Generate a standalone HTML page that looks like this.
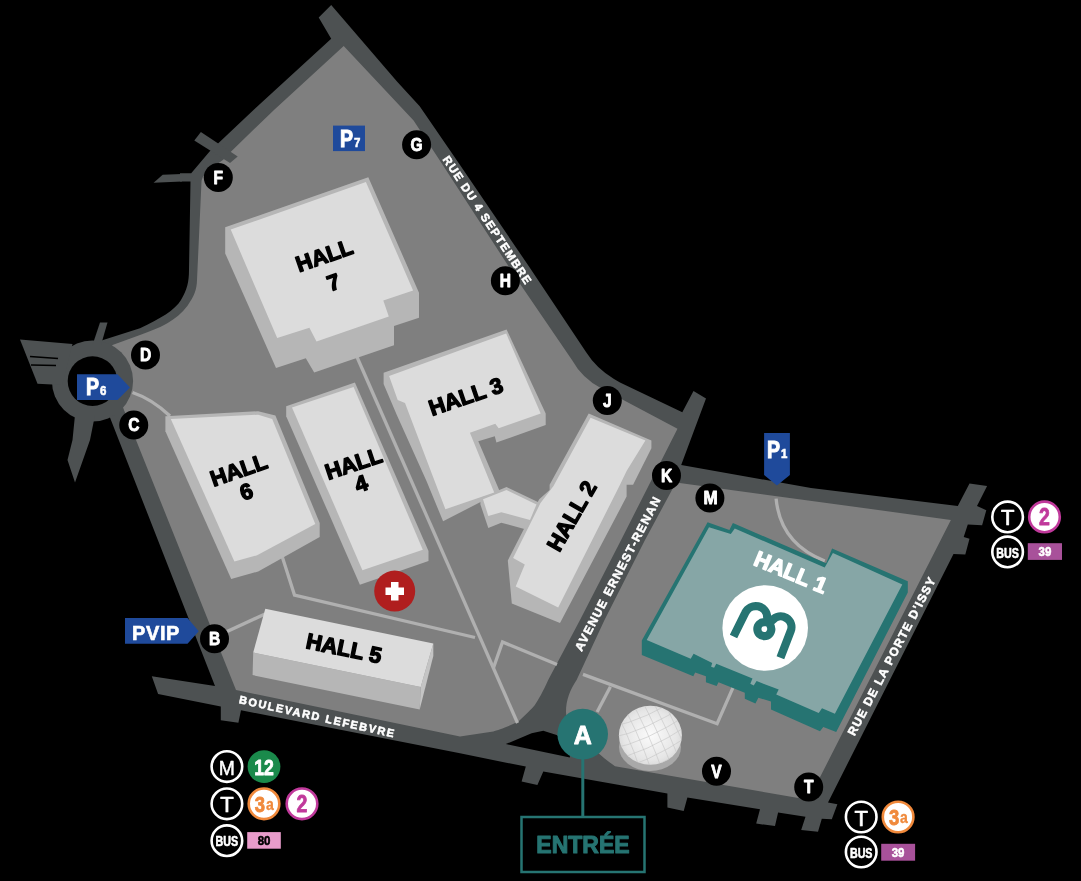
<!DOCTYPE html>
<html><head><meta charset="utf-8">
<style>
html,body{margin:0;padding:0;background:#000;width:1081px;height:881px;overflow:hidden}
svg{display:block;will-change:transform}
text{font-family:"Liberation Sans",sans-serif}
</style></head><body>
<svg width="1081" height="881" viewBox="0 0 1081 881">
<g fill="#4d5152">
<path d="M318.7,17.5 L331.2,5 L397.2,81.7 L419.7,106.2 L459,163.5 L529.5,267.3 L586,352 Q596,368 614,379 L620,382.5 L682.3,412.3 L693.5,391 L706,398.5 L681.2,464.9 L811,488 L957.8,506 L969.5,483.4 L987.1,485.9 L977,506 L986.3,510.2 L982.1,525.3 L967.8,524.4 L963.7,537 L969.5,538.7 L965.3,554.6 L953.5,554 L828,802.4 L837.4,804.3 L831.8,819.3 L821.8,818.7 L818,831.8 L801.2,829.9 L805.5,816.8 L778.1,812.4 L775,826.1 L756.2,823.6 L760,809.3 L687.4,797.4 L683.7,811.1 L667.4,807.4 L667.4,793.6 L543.3,771.6 L537.4,784.9 L521.6,781.6 L525.8,766.6 L460,753.3 L241,710.2 L238.4,722.7 L220.8,720.2 L220.8,706.4 L158.1,693.9 L151.8,676.3 L215,686 L118.75,440 L109,415 L100,341 L140,328.2 C160,319 175,310 181,300 C187,290 189,282 189,270 L190.5,181.5 L180,181.5 L180,173.3 L191.2,173.3 L209.6,151.4 L218.3,143.2 L253.5,110 L331.2,38.7 Z"/>
<polygon points="153.6,182.7 162.7,174.8 182,174 182,181.5"/>
</g>
<g fill="#7f7f7f">
<path d="M343.7,46 L413.6,120.5 L441.8,163.5 L518.4,281.4 L572,360 Q582,378 600.7,388 L677.5,428.7 L621.1,540 L580,620 L548.2,680 C543,692 538,700 534.9,705 C528,713 521,719 518.3,721.6 C508,727 498,730 493.3,731.6 L460,736.6 L236,690 L136,440 L122,405 L92.5,381 L112.5,345 L140,335 C160,328 176,321 187.7,305.5 C194,296 196.8,290 197,280 L201.5,181.5 C203,175 205,172 222.9,160 L231.1,151.4 L274,110 Z"/>
<path d="M676,482.4 L950.9,519.9 L808.5,799.8 L615,766.2 C606,760 600,755 590,745 C575,732 566,725 566,712 C566,700 570,690 576.6,680 L604.5,620 L645,540 Z"/>
</g>
<polygon points="505.8,744.1 531.6,733.3 543.3,730.8 556.6,735 570,745 569.9,757.4" fill="#000"/>
<polygon fill="#4d5152" points="194.3,140.6 200.9,132 237.7,156.5 230,163.1"/>
<g fill="#4d5152">
<circle cx="92.5" cy="381" r="40.6"/>
<polygon points="100,322.5 107.5,322.5 101,345 92.5,345"/>
<polygon points="20,339.5 72.5,344 62,385 37.5,383.75"/>
<polygon points="75,415 95,415 90,440 75,482.5 67.5,460 72.5,440"/>
</g>
<circle cx="92.5" cy="381.1" r="24.8" fill="#000"/>
<g stroke="#000" stroke-width="1.6"><line x1="30" y1="356.5" x2="58" y2="358.5"/><line x1="31" y1="365" x2="56" y2="365.5"/></g>
<g stroke="#b0b0b0" stroke-width="3.3" fill="none">
<line x1="357" y1="357" x2="517.5" y2="723"/>
<polyline points="282.4,557.3 294.5,595 475,637.5"/>
<line x1="226" y1="632" x2="265" y2="614"/>
<path d="M132.5,392.5 Q152,399 170,416"/>
<polyline points="493.5,667.7 502.5,642 557,664.5"/>
<polyline points="583,674.4 717.1,723.7 733.4,686.7"/>
<line x1="610.4" y1="686.7" x2="597.1" y2="711.9"/>
<path d="M776.1,498.6 C779,530 797,550 824.8,561"/>
</g>
<g fill="#b6b6b6">
<polygon points="225.2,227.2 368.3,177.2 419,292.8 419,317.8 394,326.1 394,345.2 314.2,372.6 305.8,358.3 276,367.9 225.2,253.4"/>
<polygon points="165.4,416.2 258.2,411.2 275.4,415.5 319.7,523 319.7,537 258.2,571.5 231.2,579.1 165.4,431.3"/>
<polygon points="286.2,406.2 354.9,382.5 428.5,551 428.5,561 359.9,584.7 286.2,416.2"/>
<polygon points="383.6,372.7 506.6,329.5 545.7,413.5 545.7,424.9 496.4,442.6 494.8,436.2 478.3,441.2 500,492 443.1,521.3 426.7,481.6 396.6,414.6 383.6,384"/>
<polygon points="480.4,498 506.5,487 540,503 528,530 501.3,522.7 488.3,527.9 480.4,504.4"/>
<polygon points="588.7,413.6 651.4,440.4 651.4,448.3 633.1,484.8 626.6,484.8 626.6,496.6 560,623.1 511.8,603.5 507.8,560.5 539.2,499.2 549.6,490 549.6,484.8"/>
<polygon points="253.2,652.5 420.7,687.1 419.7,709.5 252.6,675.1"/>
<polygon points="433.3,643.4 433.3,656 419.7,709.5 420.7,687.1" fill="#c4c4c4"/>
</g>
<g fill="#dcdcdc">
<polygon points="230.7,229.6 365.9,181.9 413.1,290.4 383.3,300.6 388.8,316.6 316.5,341.6 309.4,327.8 277.2,338.1"/>
<polygon points="170.8,419 258.2,414.7 272.2,419 315.3,524.1 257.1,555.3 234.4,561.4"/>
<polygon points="292,407.5 353.6,387 422.8,549.7 362.4,570.2"/>
<polygon points="389.1,376.1 506.2,333.6 540.7,413.5 498.7,428.3 495.3,423.7 469.9,432.8 494.2,492.5 445.4,509.3 432.9,476.6 405,403 397.7,400"/>
<polygon points="483,499.2 506.5,490 536.5,504.4 530,520 501.3,512.2 488.3,516.1"/>
<polygon points="590.6,417.7 645.4,440.4 626.6,471 620,484.8 558.2,607.5 515.7,586.6 524.8,564.4 513.1,557.9 540.5,503.1 553.5,486.1"/>
<polygon points="265.3,608.8 433.3,643.4 420.7,687.1 253.2,652.5"/>
</g>
<polygon fill="#267472" points="707.6,522.3 729.4,530 732.9,523.1 826.1,563.2 832.1,548.5 907.8,581.2 907.8,592.6 836.2,732 823.3,727 820,731.2 771,709.4 771,701.6 758.4,697.7 755.4,703.5 744.8,698.7 744.8,692.8 718.5,682.2 716.6,686 705.9,682.2 705.9,676.3 695.2,672.4 693.3,676.3 641.8,655 641.8,640.4"/>
<polygon fill="#86a6a6" points="709,527.2 730.8,534 734.8,528.6 824.7,567.5 832.9,553.1 902.3,584.4 834.9,713.7 822,708.3 818.7,712.9 776.2,694.6 778.7,689.6 756.6,681.1 753.7,685.5 750.3,683.7 752.5,678.5 716.3,663.7 714.1,667.8 711.1,666.7 712.2,663 693.6,653.8 690.7,658.7 646.7,639.9"/>
<circle cx="765.2" cy="628" r="42.8" fill="#fff"/>
<path transform="translate(765.2,628)" d="M-31.7,8.5 L-19.95,-15.2 A11.5 11.5 0 0 1 2,-10.4 C2,-5 6.15,-4 6.15,1.1 A7 7 0 1 1 -0.85,-5.9 C1.15,-5.9 5.84,-6.21 7.13,-7.74 A10.8 10.8 0 0 1 25.5,3.07 L15.2,29.8" stroke="#267472" stroke-width="8.2" fill="none"/>
<defs><radialGradient id="gg" cx="0.5" cy="0.5" r="0.6"><stop offset="0" stop-color="#fbfbfb"/><stop offset="0.7" stop-color="#e6e6e6"/><stop offset="1" stop-color="#d2d2d2"/></radialGradient><clipPath id="gc"><ellipse cx="650.4" cy="735.3" rx="31.5" ry="29.5"/></clipPath></defs>
<ellipse cx="650" cy="747" rx="31" ry="24" fill="#a9a9a9"/>
<ellipse cx="650.4" cy="735.3" rx="31.5" ry="29.5" fill="url(#gg)"/>
<path clip-path="url(#gc)" d="M610,716 Q645,710 690,680 M595,695 Q615,723.4 631,775 M610,727 Q645,721 690,691 M606,695 Q626,725.6 642,775 M610,738 Q645,732 690,702 M617,695 Q637,727.8 653,775 M610,749 Q645,743 690,713 M628,695 Q648,730.0 664,775 M610,760 Q645,754 690,724 M639,695 Q659,732.2 675,775 M610,771 Q645,765 690,735 M650,695 Q670,734.4 686,775 M610,782 Q645,776 690,746 M661,695 Q681,736.6 697,775" stroke="#c4c4c4" stroke-width="0.6" fill="none"/>
<circle cx="394.7" cy="591.1" r="20.5" fill="#b01e1e"/>
<path d="M391,582 h7.5 v5.5 h5.5 v7.5 h-5.5 v5.5 h-7.5 v-5.5 h-5.5 v-7.5 h5.5z" fill="#fff"/>
<text transform="translate(487.5,220.5) rotate(56.6)" style="font-size:11.5px;font-weight:bold;letter-spacing:1.3px;" fill="#fff" stroke="#fff" stroke-width="0.55" stroke-linejoin="round" text-anchor="middle" dominant-baseline="central">RUE DU 4 SEPTEMBRE</text>
<text transform="translate(618,573.5) rotate(-62.5)" style="font-size:12px;font-weight:bold;letter-spacing:1.35px;" fill="#fff" stroke="#fff" stroke-width="0.5" stroke-linejoin="round" text-anchor="middle" dominant-baseline="central">AVENUE ERNEST-RENAN</text>
<text transform="translate(892,656) rotate(-62.5)" style="font-size:12px;font-weight:bold;letter-spacing:1.2px;" fill="#fff" stroke="#fff" stroke-width="0.5" stroke-linejoin="round" text-anchor="middle" dominant-baseline="central">RUE DE LA PORTE D'ISSY</text>
<text transform="translate(317.5,716.5) rotate(12.5)" style="font-size:11px;font-weight:bold;letter-spacing:1.65px;" fill="#fff" stroke="#fff" stroke-width="0.55" stroke-linejoin="round" text-anchor="middle" dominant-baseline="central">BOULEVARD LEFEBVRE</text>
<text transform="translate(324.4,255.6) rotate(-19)" style="font-size:22px;font-weight:bold;" fill="#000" stroke="#000" stroke-width="1.4" stroke-linejoin="round" text-anchor="middle" dominant-baseline="central">HALL</text>
<text transform="translate(333.5,282.5) rotate(-19)" style="font-size:22px;font-weight:bold;" fill="#000" stroke="#000" stroke-width="1.4" stroke-linejoin="round" text-anchor="middle" dominant-baseline="central">7</text>
<text transform="translate(238.7,470.1) rotate(-19)" style="font-size:22px;font-weight:bold;" fill="#000" stroke="#000" stroke-width="1.4" stroke-linejoin="round" text-anchor="middle" dominant-baseline="central">HALL</text>
<text transform="translate(246.3,491.7) rotate(-19)" style="font-size:22px;font-weight:bold;" fill="#000" stroke="#000" stroke-width="1.4" stroke-linejoin="round" text-anchor="middle" dominant-baseline="central">6</text>
<text transform="translate(353.6,463.6) rotate(-18.4)" style="font-size:22px;font-weight:bold;" fill="#000" stroke="#000" stroke-width="1.4" stroke-linejoin="round" text-anchor="middle" dominant-baseline="central">HALL</text>
<text transform="translate(361.1,483.6) rotate(-18.4)" style="font-size:22px;font-weight:bold;" fill="#000" stroke="#000" stroke-width="1.4" stroke-linejoin="round" text-anchor="middle" dominant-baseline="central">4</text>
<text transform="translate(465.8,396.5) rotate(-18.7)" style="font-size:22px;font-weight:bold;" fill="#000" stroke="#000" stroke-width="1.4" stroke-linejoin="round" text-anchor="middle" dominant-baseline="central">HALL 3</text>
<text transform="translate(571.8,516.1) rotate(-60)" style="font-size:22px;font-weight:bold;" fill="#000" stroke="#000" stroke-width="1.4" stroke-linejoin="round" text-anchor="middle" dominant-baseline="central">HALL 2</text>
<text transform="translate(343.9,648.3) rotate(11.6)" style="font-size:22px;font-weight:bold;" fill="#000" stroke="#000" stroke-width="1.4" stroke-linejoin="round" text-anchor="middle" dominant-baseline="central">HALL 5</text>
<text transform="translate(790.7,572.2) rotate(22.6)" style="font-size:22px;font-weight:bold;" fill="#fff" stroke="#fff" stroke-width="1.4" stroke-linejoin="round" text-anchor="middle" dominant-baseline="central">HALL 1</text>
<circle cx="218.3" cy="177.4" r="14.5" fill="#000"/>
<circle cx="416.6" cy="144.8" r="14.5" fill="#000"/>
<circle cx="505.4" cy="280.8" r="14.5" fill="#000"/>
<circle cx="145.5" cy="355" r="14.5" fill="#000"/>
<circle cx="133.75" cy="425" r="14.5" fill="#000"/>
<circle cx="214.5" cy="638.75" r="14.5" fill="#000"/>
<circle cx="607.3" cy="400.4" r="14.5" fill="#000"/>
<circle cx="666.5" cy="475.4" r="14.5" fill="#000"/>
<circle cx="709.9" cy="497.9" r="14.5" fill="#000"/>
<circle cx="716.5" cy="771.2" r="14.5" fill="#000"/>
<circle cx="808.7" cy="786.9" r="14.5" fill="#000"/>
<text transform="translate(218.3,177.20000000000002) scale(0.82,1)" style="font-size:19px;font-weight:bold;" fill="#fff" stroke="#fff" stroke-width="0.9" stroke-linejoin="round" text-anchor="middle" dominant-baseline="central">F</text>
<text transform="translate(416.6,144.60000000000002) scale(0.82,1)" style="font-size:19px;font-weight:bold;" fill="#fff" stroke="#fff" stroke-width="0.9" stroke-linejoin="round" text-anchor="middle" dominant-baseline="central">G</text>
<text transform="translate(505.4,280.6) scale(0.82,1)" style="font-size:19px;font-weight:bold;" fill="#fff" stroke="#fff" stroke-width="0.9" stroke-linejoin="round" text-anchor="middle" dominant-baseline="central">H</text>
<text transform="translate(145.5,354.8) scale(0.82,1)" style="font-size:19px;font-weight:bold;" fill="#fff" stroke="#fff" stroke-width="0.9" stroke-linejoin="round" text-anchor="middle" dominant-baseline="central">D</text>
<text transform="translate(133.75,424.8) scale(0.82,1)" style="font-size:19px;font-weight:bold;" fill="#fff" stroke="#fff" stroke-width="0.9" stroke-linejoin="round" text-anchor="middle" dominant-baseline="central">C</text>
<text transform="translate(214.5,638.55) scale(0.82,1)" style="font-size:19px;font-weight:bold;" fill="#fff" stroke="#fff" stroke-width="0.9" stroke-linejoin="round" text-anchor="middle" dominant-baseline="central">B</text>
<text transform="translate(607.3,400.2) scale(0.82,1)" style="font-size:19px;font-weight:bold;" fill="#fff" stroke="#fff" stroke-width="0.9" stroke-linejoin="round" text-anchor="middle" dominant-baseline="central">J</text>
<text transform="translate(666.5,475.2) scale(0.82,1)" style="font-size:19px;font-weight:bold;" fill="#fff" stroke="#fff" stroke-width="0.9" stroke-linejoin="round" text-anchor="middle" dominant-baseline="central">K</text>
<text transform="translate(710.6999999999999,497.7) scale(0.95,1)" style="font-size:18px;font-weight:bold;" fill="#fff" stroke="#fff" stroke-width="0.9" stroke-linejoin="round" text-anchor="middle" dominant-baseline="central">M</text>
<text transform="translate(716.5,771.0) scale(0.82,1)" style="font-size:19px;font-weight:bold;" fill="#fff" stroke="#fff" stroke-width="0.9" stroke-linejoin="round" text-anchor="middle" dominant-baseline="central">V</text>
<text transform="translate(808.7,786.6999999999999) scale(0.82,1)" style="font-size:19px;font-weight:bold;" fill="#fff" stroke="#fff" stroke-width="0.9" stroke-linejoin="round" text-anchor="middle" dominant-baseline="central">T</text>
<g fill="#1f4a9b">
<rect x="333" y="125.6" width="32" height="25.5"/>
<polygon points="77,374.25 117.5,374.25 130,387.5 117.5,400 77,400"/>
<polygon points="764.1,433 789.9,433 789.9,474.9 776.9,485.4 764.1,474.9"/>
<polygon points="125,618 187.5,618 198.75,631.25 187.5,643.75 125,643.75"/>
</g>
<text transform="translate(86,395) scale(0.85,1)" style="font-size:23px;font-weight:bold" fill="#fff" stroke="#fff" stroke-width="1.0">P</text>
<text transform="translate(100,395) scale(0.85,1)" style="font-size:13.5px;font-weight:bold" fill="#fff" stroke="#fff" stroke-width="0.6">6</text>
<text transform="translate(340,146.5) scale(0.85,1)" style="font-size:23px;font-weight:bold" fill="#fff" stroke="#fff" stroke-width="1.0">P</text>
<text transform="translate(354,146.5) scale(0.85,1)" style="font-size:13.5px;font-weight:bold" fill="#fff" stroke="#fff" stroke-width="0.6">7</text>
<text transform="translate(767,458) scale(0.85,1)" style="font-size:23px;font-weight:bold" fill="#fff" stroke="#fff" stroke-width="1.0">P</text>
<text transform="translate(781,458) scale(0.85,1)" style="font-size:13.5px;font-weight:bold" fill="#fff" stroke="#fff" stroke-width="0.6">1</text>
<text transform="translate(132,639.5)" style="font-size:20px;font-weight:bold;letter-spacing:0.6px" fill="#fff" stroke="#fff" stroke-width="0.6">PVIP</text>
<line x1="582.8" y1="758" x2="582.8" y2="817" stroke="#267472" stroke-width="3"/>
<circle cx="582.7" cy="734.1" r="25.3" fill="#267472"/>
<text transform="translate(582.7,735)" style="font-size:25px;font-weight:bold;" fill="#fff" stroke="#fff" stroke-width="0.8" stroke-linejoin="round" text-anchor="middle" dominant-baseline="central">A</text>
<rect x="521.5" y="817" width="123" height="55" fill="#000" stroke="#267472" stroke-width="2.5"/>
<text transform="translate(583,845)" style="font-size:23px;font-weight:bold;" fill="#267472" stroke="#267472" stroke-width="1.0" stroke-linejoin="round" text-anchor="middle" dominant-baseline="central">ENTRÉE</text>
<circle cx="226.9" cy="766.6" r="15.3" fill="none" stroke="#fff" stroke-width="2.6"/>
<circle cx="226.9" cy="803.8" r="15.3" fill="none" stroke="#fff" stroke-width="2.6"/>
<circle cx="226.9" cy="840.7" r="15.3" fill="none" stroke="#fff" stroke-width="2.6"/>
<circle cx="1007.6" cy="516.9" r="15.3" fill="none" stroke="#fff" stroke-width="2.6"/>
<circle cx="1007.6" cy="551.9" r="15.3" fill="none" stroke="#fff" stroke-width="2.6"/>
<circle cx="861.2" cy="817" r="15.3" fill="none" stroke="#fff" stroke-width="2.6"/>
<circle cx="861.2" cy="852" r="15.3" fill="none" stroke="#fff" stroke-width="2.6"/>
<circle cx="264" cy="766.6" r="16.4" fill="#1a8a4b"/>
<circle cx="264" cy="803.8" r="15.3" fill="#fff" stroke="#f0893b" stroke-width="2.6"/>
<circle cx="302" cy="803.8" r="15.3" fill="#fff" stroke="#c0399b" stroke-width="2.6"/>
<circle cx="1044.5" cy="516.9" r="15.3" fill="#fff" stroke="#c0399b" stroke-width="2.6"/>
<circle cx="898.1" cy="817" r="15.3" fill="#fff" stroke="#f0893b" stroke-width="2.6"/>
<rect x="247.2" y="832.1" width="33.6" height="16.6" fill="#e99ccb"/>
<rect x="1027.8" y="543.2" width="34.2" height="16.7" fill="#a8519a"/>
<rect x="881.2" y="843.8" width="33.9" height="16.9" fill="#a8519a"/>
<text transform="translate(226.9,767.6) scale(0.92,1)" style="font-size:21px;font-weight:normal;" fill="#fff" stroke="#fff" stroke-width="0.5" stroke-linejoin="round" text-anchor="middle" dominant-baseline="central">M</text>
<text transform="translate(226.9,804.8)" style="font-size:22px;font-weight:normal;" fill="#fff" stroke="#fff" stroke-width="0.7" stroke-linejoin="round" text-anchor="middle" dominant-baseline="central">T</text>
<text transform="translate(1007.6,517.9)" style="font-size:22px;font-weight:normal;" fill="#fff" stroke="#fff" stroke-width="0.7" stroke-linejoin="round" text-anchor="middle" dominant-baseline="central">T</text>
<text transform="translate(861.2,818)" style="font-size:22px;font-weight:normal;" fill="#fff" stroke="#fff" stroke-width="0.7" stroke-linejoin="round" text-anchor="middle" dominant-baseline="central">T</text>
<text transform="translate(226.9,841.2) scale(0.74,1)" style="font-size:14.5px;font-weight:bold;" fill="#fff" stroke="#fff" stroke-width="0.6" stroke-linejoin="round" text-anchor="middle" dominant-baseline="central">BUS</text>
<text transform="translate(1007.6,552.4) scale(0.74,1)" style="font-size:14.5px;font-weight:bold;" fill="#fff" stroke="#fff" stroke-width="0.6" stroke-linejoin="round" text-anchor="middle" dominant-baseline="central">BUS</text>
<text transform="translate(861.2,852.5) scale(0.74,1)" style="font-size:14.5px;font-weight:bold;" fill="#fff" stroke="#fff" stroke-width="0.6" stroke-linejoin="round" text-anchor="middle" dominant-baseline="central">BUS</text>
<text transform="translate(264,767.5) scale(0.8,1)" style="font-size:22px;font-weight:bold;" fill="#fff" stroke="#fff" stroke-width="0.8" stroke-linejoin="round" text-anchor="middle" dominant-baseline="central">12</text>
<text transform="translate(1044.9,551.5) scale(0.85,1)" style="font-size:13.5px;font-weight:bold;" fill="#fff" stroke="#fff" stroke-width="0.6" stroke-linejoin="round" text-anchor="middle" dominant-baseline="central">39</text>
<text transform="translate(898.1,852.3) scale(0.85,1)" style="font-size:13.5px;font-weight:bold;" fill="#fff" stroke="#fff" stroke-width="0.6" stroke-linejoin="round" text-anchor="middle" dominant-baseline="central">39</text>
<text transform="translate(264,840.5) scale(0.85,1)" style="font-size:13.5px;font-weight:bold;" fill="#000" stroke="#000" stroke-width="0.6" stroke-linejoin="round" text-anchor="middle" dominant-baseline="central">80</text>
<text transform="translate(302,804.8) scale(0.85,1)" style="font-size:23px;font-weight:bold;" fill="#c0399b" stroke="#c0399b" stroke-width="0.8" stroke-linejoin="round" text-anchor="middle" dominant-baseline="central">2</text>
<text transform="translate(1044.5,517.9) scale(0.85,1)" style="font-size:23px;font-weight:bold;" fill="#c0399b" stroke="#c0399b" stroke-width="0.8" stroke-linejoin="round" text-anchor="middle" dominant-baseline="central">2</text>
<text transform="translate(260,803.8) scale(0.82,1)" style="font-size:22.5px;font-weight:bold;" fill="#f0893b" stroke="#f0893b" stroke-width="0.8" stroke-linejoin="round" text-anchor="middle" dominant-baseline="central">3</text>
<text transform="translate(269.8,804.0999999999999) scale(0.88,1)" style="font-size:16px;font-weight:bold;" fill="#f0893b" stroke="#f0893b" stroke-width="0.3" stroke-linejoin="round" text-anchor="middle" dominant-baseline="central">a</text>
<text transform="translate(894.1,817) scale(0.82,1)" style="font-size:22.5px;font-weight:bold;" fill="#f0893b" stroke="#f0893b" stroke-width="0.8" stroke-linejoin="round" text-anchor="middle" dominant-baseline="central">3</text>
<text transform="translate(903.9,817.3) scale(0.88,1)" style="font-size:16px;font-weight:bold;" fill="#f0893b" stroke="#f0893b" stroke-width="0.3" stroke-linejoin="round" text-anchor="middle" dominant-baseline="central">a</text>
</svg>
</body></html>
